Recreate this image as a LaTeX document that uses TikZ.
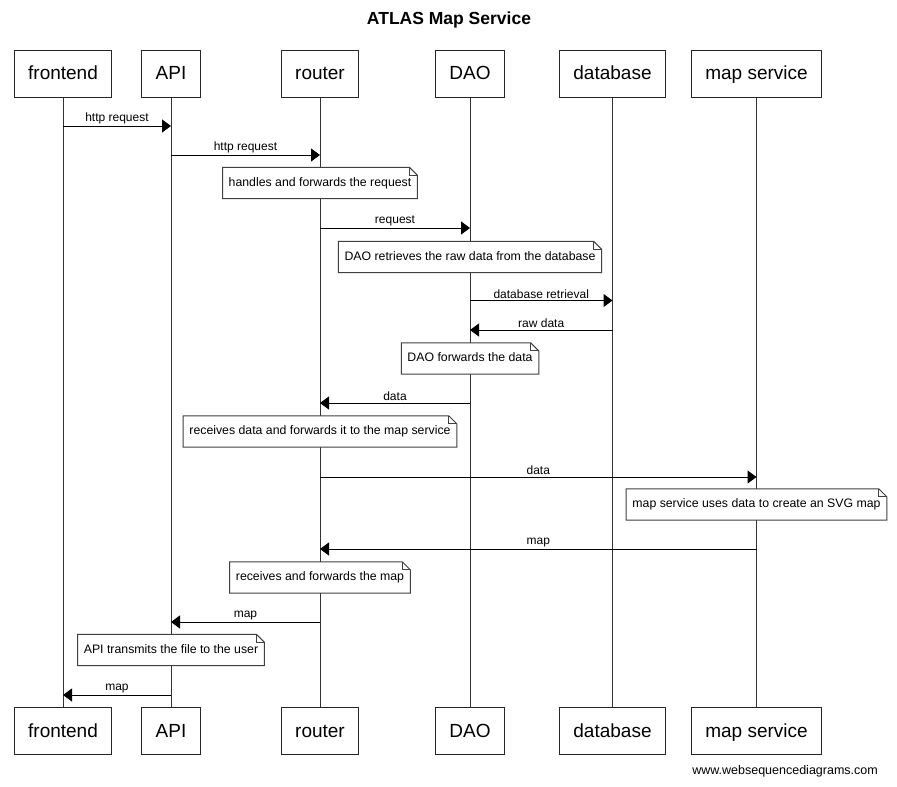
\documentclass[tikz,border=0pt]{standalone}
\usepackage{fontspec}
\setmainfont{Liberation Sans}
\usetikzlibrary{arrows.meta,calc}
\newcommand\mynote[3]{%
  \node[note] (#1) at (#2) {#3};
  \draw[notebox] (#1.south west) -- (#1.south east) -- ([yshift=-8pt]#1.north east) -- ([xshift=-8pt]#1.north east) -- (#1.north west) -- cycle;
  \draw[notebox] ([xshift=-8pt]#1.north east) |- ([yshift=-8pt]#1.north east);
}
\begin{document}
\begin{tikzpicture}[x=1pt,y=-1pt,
  actor/.style={draw=black!85,line width=1pt,fill=white,minimum height=47pt,inner xsep=14pt,inner ysep=0pt,text height=14pt,text depth=2pt,font=\fontsize{19}{22}\selectfont},
  life/.style={draw=black!80,line width=1pt},
  msg/.style={draw=black,line width=1pt,-{Triangle[length=9pt,width=13pt]}},
  lbl/.style={font=\fontsize{12}{14}\selectfont,inner sep=0pt,anchor=south,yshift=1.5pt},
  note/.style={font=\fontsize{12.3}{14}\selectfont,inner xsep=6pt,minimum height=31pt,inner ysep=0pt,text height=8.5pt,text depth=2.5pt,fill=white},
  notebox/.style={draw=black!75,line width=1pt}]
\useasboundingbox (0,0) rectangle (897,787);
\fill[white] (0,0) rectangle (897,787);
\node[font=\bfseries\fontsize{17.5}{20}\selectfont] (title) at (449,20) {ATLAS Map Service};
% actors top
\node[actor] (feT) at (63,73.5) {frontend};
\node[actor] (apiT) at (171,73.5) {API};
\node[actor] (rtT) at (320,73.5) {router};
\node[actor] (daoT) at (470,73.5) {DAO};
\node[actor] (dbT) at (612.5,73.5) {database};
\node[actor] (msT) at (756.5,73.5) {map service};
% actors bottom
\node[actor] (feB) at (63,731) {frontend};
\node[actor] (apiB) at (171,731) {API};
\node[actor] (rtB) at (320,731) {router};
\node[actor] (daoB) at (470,731) {DAO};
\node[actor] (dbB) at (612.5,731) {database};
\node[actor] (msB) at (756.5,731) {map service};
% lifelines
\draw[life] (feT) -- (feB);
\draw[life] (apiT) -- (apiB);
\draw[life] (rtT) -- (rtB);
\draw[life] (daoT) -- (daoB);
\draw[life] (dbT) -- (dbB);
\draw[life] (msT) -- (msB);
% messages and notes
\draw[msg] (feT |- 0,126) -- (apiT |- 0,126) node[lbl,midway] {http request};
\draw[msg] (apiT |- 0,155) -- (rtT |- 0,155) node[lbl,midway] {http request};
\mynote{n1}{rtT |- 0,183}{handles and forwards the request}
\draw[msg] (rtT |- 0,228) -- (daoT |- 0,228) node[lbl,midway] {request};
\mynote{n2}{daoT |- 0,257}{DAO retrieves the raw data from the database}
\draw[msg] (daoT |- 0,300.5) -- (dbT |- 0,300.5) node[lbl,midway] {database retrieval};
\draw[msg] (dbT |- 0,330) -- (daoT |- 0,330) node[lbl,midway] {raw data};
\mynote{n3}{daoT |- 0,358.5}{DAO forwards the data}
\draw[msg] (daoT |- 0,403) -- (rtT |- 0,403) node[lbl,midway] {data};
\mynote{n4}{rtT |- 0,431.5}{receives data and forwards it to the map service}
\draw[msg] (rtT |- 0,477) -- (msT |- 0,477) node[lbl,midway] {data};
\mynote{n5}{msT |- 0,504.5}{map service uses data to create an SVG map}
\draw[msg] (msT |- 0,549) -- (rtT |- 0,549) node[lbl,midway] {map};
\mynote{n6}{rtT |- 0,577.5}{receives and forwards the map}
\draw[msg] (rtT |- 0,622) -- (apiT |- 0,622) node[lbl,midway] {map};
\mynote{n7}{apiT |- 0,650}{API transmits the file to the user}
\draw[msg] (apiT |- 0,695) -- (feT |- 0,695) node[lbl,midway] {map};
\node[anchor=east,inner sep=0pt,font=\fontsize{12.5}{14}\selectfont] (foot) at (878,771) {www.websequencediagrams.com};
\end{tikzpicture}
\end{document}
